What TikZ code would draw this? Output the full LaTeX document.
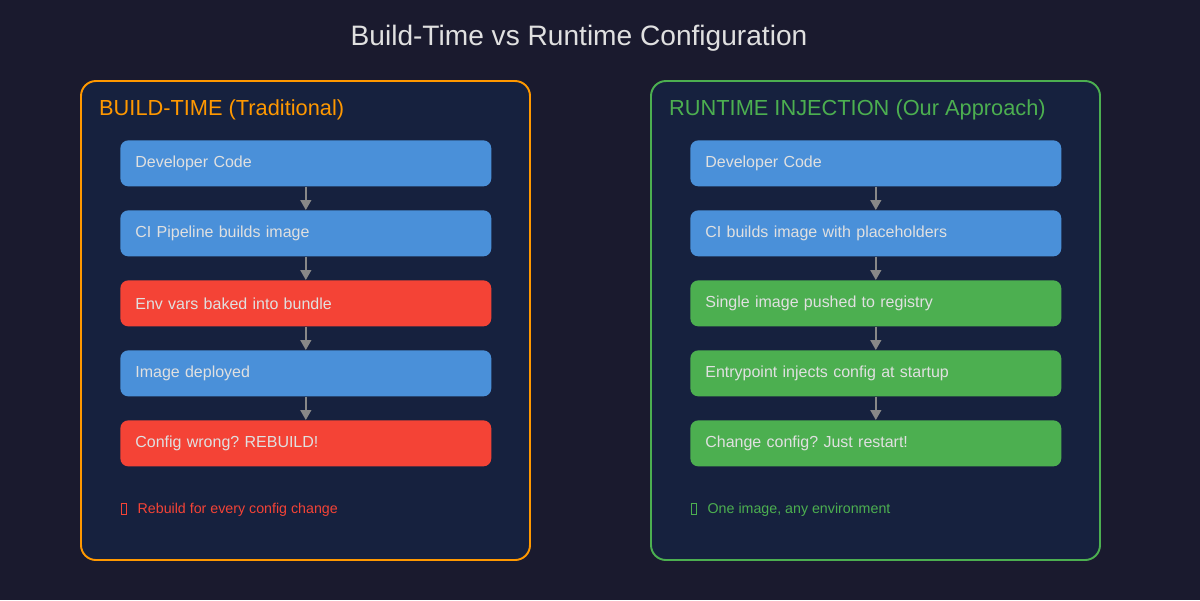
\documentclass[tikz,border=0pt]{standalone}
\usepackage{fontspec}
\setmainfont{Liberation Sans}
\usetikzlibrary{arrows.meta}
\frenchspacing

\definecolor{bgdark}{HTML}{1A1A2E}
\definecolor{panelfill}{HTML}{16213E}
\definecolor{buildorange}{HTML}{FF9800}
\definecolor{rungreen}{HTML}{4CAF50}
\definecolor{stepblue}{HTML}{4A90D9}
\definecolor{stepred}{HTML}{F44336}
\definecolor{textlight}{HTML}{E0E0E0}
\definecolor{arrowgray}{HTML}{888888}

% empty box that stands for the missing icon glyph
\newcommand\missingglyph{{\fboxsep=0pt\fboxrule=0.35pt\fbox{\rule{0pt}{0.72em}\hspace{0.32em}}}}

\begin{document}
\begin{tikzpicture}[x=0.02cm,y=-0.02cm,
  panel/.style={fill=panelfill,line width=1.1pt,rounded corners=8.5pt},
  heading/.style={anchor=west,font=\fontsize{12.4}{14}\selectfont},
  stepbox/.style={anchor=north west,minimum height=0.92cm,text width=6.82cm,
    inner xsep=0.3cm,align=left,rounded corners=4.5pt,text=textlight,
    font=\fontsize{9.1}{11}\selectfont},
  flowarrow/.style={draw=arrowgray,line width=0.85pt,
    -{Triangle[length=0.2cm,width=0.22cm]}},
  footnote/.style={anchor=west,font=\fontsize{8.1}{10}\selectfont}]

  \fill[bgdark] (0,0) rectangle (1200,600);

  \node[text=textlight,font=\fontsize{16}{19}\selectfont] (title) at (579,38)
    {Build-Time vs Runtime Configuration};

  % Left panel: build-time
  \draw[panel,draw=buildorange] (81,81) rectangle (530,560);
  \node[heading,text=buildorange] (buildhead) at (93,110) {BUILD-TIME (Traditional)};

  \foreach \i/\txt/\col in {1/Developer Code/stepblue,
      2/CI Pipeline builds image/stepblue,
      3/Env vars baked into bundle/stepred,
      4/Image deployed/stepblue,
      5/Config wrong? REBUILD!/stepred}
    \node[stepbox,fill=\col] (b\i) at (120,{140+70*(\i-1)}) {\txt};
  \foreach \i [count=\j from 2] in {1,...,4}
    \draw[flowarrow] (b\i) -- (b\j);

  \node[footnote,text=stepred] (buildnote) at (115,510)
    {\missingglyph\hspace{0.75em}Rebuild for every config change};

  % Right panel: runtime injection
  \draw[panel,draw=rungreen] (651,81) rectangle (1100,560);
  \node[heading,text=rungreen] (runhead) at (663,110) {RUNTIME INJECTION (Our Approach)};

  \foreach \i/\txt/\col in {1/Developer Code/stepblue,
      2/CI builds image with placeholders/stepblue,
      3/Single image pushed to registry/rungreen,
      4/Entrypoint injects config at startup/rungreen,
      5/Change config? Just restart!/rungreen}
    \node[stepbox,fill=\col] (r\i) at (690,{140+70*(\i-1)}) {\txt};
  \foreach \i [count=\j from 2] in {1,...,4}
    \draw[flowarrow] (r\i) -- (r\j);

  \node[footnote,text=rungreen] (runnote) at (685,510)
    {\missingglyph\hspace{0.75em}One image, any environment};
\end{tikzpicture}
\end{document}
